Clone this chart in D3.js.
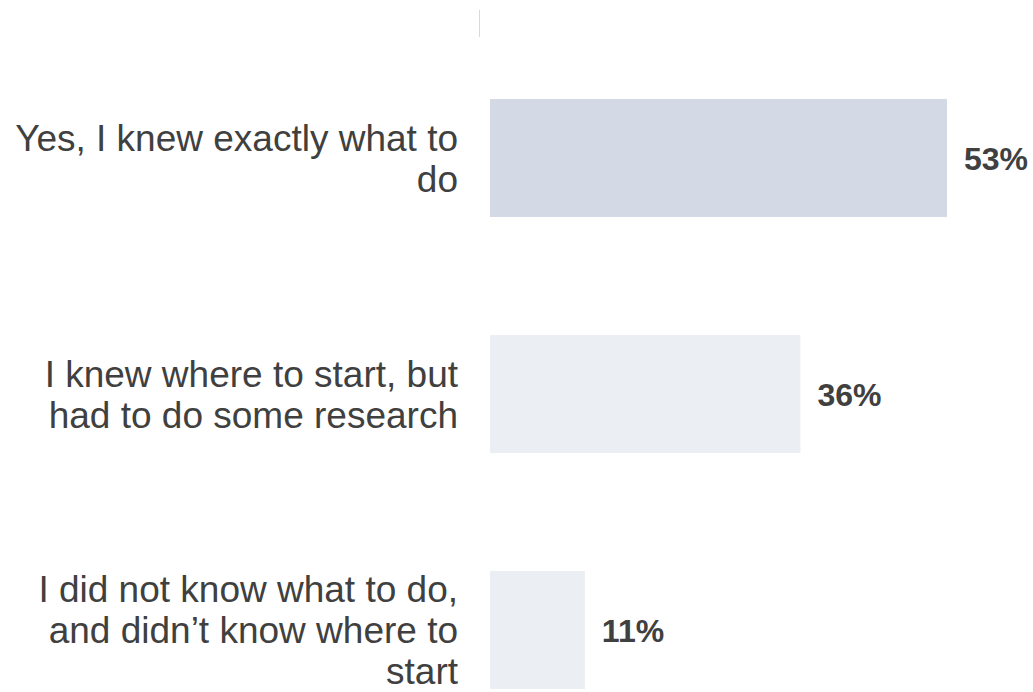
<!DOCTYPE html>
<html>
<head>
<meta charset="utf-8">
<script src="https://cdn.jsdelivr.net/npm/d3@7"></script>
<style>
  html, body { margin: 0; padding: 0; background: #ffffff; }
  svg { display: block; }
</style>
</head>
<body>
<svg id="chart" width="1033" height="692"></svg>
<script>
// Survey answers, one bar per answer
const categories = [
  "Yes, I knew exactly what to do",
  "I knew where to start, but had to do some research",
  "I did not know what to do, and didn\u2019t know where to start"
];
// Each answer split into the lines it is printed on
const categoryLines = [
  ["Yes, I knew exactly what to", "do"],
  ["I knew where to start, but", "had to do some research"],
  ["I did not know what to do,", "and didn\u2019t know where to", "start"]
];
const values = [53, 36, 11];
const valueLabels = ["53%", "36%", "11%"];
const barColors = ["#d3dae6", "#ebeef3", "#ebeef3"];

const svg = d3.select("#chart");
const axisX = 479.5;
const barX0 = 490;

const x = d3.scaleLinear().domain([0, 53]).range([barX0, 947]);
const y = d3.scaleBand()
  .domain(categories)
  .range([40, 748])
  .paddingInner(0.5)
  .paddingOuter(0.25);

// Short stub of the category axis line above the bars
svg.append("line")
  .attr("x1", axisX).attr("x2", axisX)
  .attr("y1", 10).attr("y2", 37)
  .attr("stroke", "#d9d9d9")
  .attr("stroke-width", 1);

// Bars
svg.selectAll("rect.bar")
  .data(categories)
  .join("rect")
  .attr("class", "bar")
  .attr("x", x(0))
  .attr("y", d => y(d))
  .attr("width", (d, i) => x(values[i]) - x(0))
  .attr("height", y.bandwidth())
  .attr("fill", (d, i) => barColors[i]);

// Value labels to the right of each bar
svg.selectAll("text.value")
  .data(categories)
  .join("text")
  .attr("class", "value")
  .attr("x", (d, i) => x(values[i]) + 17)
  .attr("y", d => y(d) + y.bandwidth() / 2)
  .attr("dy", "0.36em")
  .attr("font-family", "'Liberation Sans', Arial, sans-serif")
  .attr("font-weight", "bold")
  .attr("font-size", 32)
  .attr("fill", "#404040")
  .text((d, i) => valueLabels[i]);

// Category labels, right-aligned and centred on their bar
const lineHeight = 41;
const labels = svg.selectAll("text.cat")
  .data(categories)
  .join("text")
  .attr("class", "cat")
  .attr("text-anchor", "end")
  .attr("font-family", "'Liberation Sans', Arial, sans-serif")
  .attr("font-size", 37)
  .attr("fill", "#404040");

labels.each(function(d, i) {
  const lines = categoryLines[i];
  const cy = y(d) + y.bandwidth() / 2;
  const first = cy - (lines.length - 1) * lineHeight / 2;
  d3.select(this).selectAll("tspan")
    .data(lines)
    .join("tspan")
    .attr("x", 458)
    .attr("y", (l, j) => first + j * lineHeight)
    .attr("dy", "0.36em")
    .text(l => l);
});
</script>
</body>
</html>
